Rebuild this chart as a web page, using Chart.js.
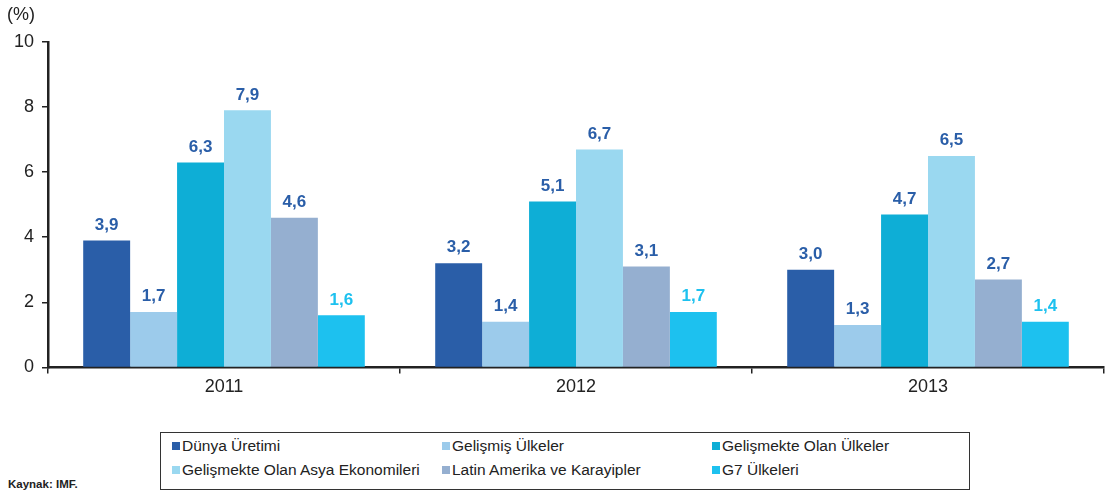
<!DOCTYPE html>
<html lang="tr">
<head>
<meta charset="UTF-8">
<title>Büyüme</title>
<script src="https://cdn.jsdelivr.net/npm/chart.js@4.4.0/dist/chart.umd.min.js"></script>
<style>
    body { margin: 0; background: #fff; font-family: "Liberation Sans", Arial, sans-serif; }
    #wrap { position: relative; width: 1106px; height: 494px; }
    #chart-div { position: absolute; left: 0; top: 0; width: 1106px; height: 401px; }
    #legend {
        position: absolute; left: 160px; top: 432px; width: 810px; height: 58px;
        border: 1.5px solid #333; box-sizing: border-box;
        display: grid; grid-template-columns: 270px 270px 268px; grid-template-rows: 24px 24px;
        padding: 4px 0 0 11px; font-size: 15.5px; color: #222;
    }
    #legend span.sw { display: inline-block; width: 8px; height: 8px; margin-right: 2px; vertical-align: 1px; }
    #source { position: absolute; left: 8px; top: 478px; font-size: 11.5px; font-weight: bold; color: #222; }
</style>
</head>
<body>
<div id="wrap">
    <div id="chart-div"><canvas id="bar-chart"></canvas></div>
    <div id="legend"></div>
    <div id="source">Kaynak: IMF.</div>
</div>
<script>
    var years = ["2011", "2012", "2013"];
    var seriesNames = ["Dünya Üretimi", "Gelişmiş Ülkeler", "Gelişmekte Olan Ülkeler",
                       "Gelişmekte Olan Asya Ekonomileri", "Latin Amerika ve Karayipler", "G7 Ülkeleri"];
    var dunya   = [3.9, 3.2, 3.0];
    var gelismis = [1.7, 1.4, 1.3];
    var gelismekte = [6.3, 5.1, 4.7];
    var asya    = [7.9, 6.7, 6.5];
    var latin   = [4.6, 3.1, 2.7];
    var g7      = [1.6, 1.7, 1.4];
    var yTicks  = [0, 2, 4, 6, 8, 10];

    var colors = ["#2a5ea8", "#9ccbeb", "#0eaed6", "#9ad8f0", "#95afd0", "#1dc1ef"];
    var labelColors = ["#2a5ea8", "#2a5ea8", "#2a5ea8", "#2a5ea8", "#2a5ea8", "#1dc1ef"];
    var allData = [dunya, gelismis, gelismekte, asya, latin, g7];

    var datasets = allData.map(function(d, i){
        return {
            label: seriesNames[i],
            data: d,
            backgroundColor: colors[i],
            barPercentage: 1,
            categoryPercentage: 0.8
        };
    });

    // value labels above bars, comma decimal
    var valueLabels = {
        id: "valueLabels",
        afterDatasetsDraw: function(chart){
            var ctx = chart.ctx;
            ctx.save();
            ctx.font = "bold 17px 'Liberation Sans', Arial, sans-serif";
            ctx.textAlign = "center";
            ctx.textBaseline = "bottom";
            chart.data.datasets.forEach(function(ds, i){
                var meta = chart.getDatasetMeta(i);
                meta.data.forEach(function(bar, j){
                    ctx.fillStyle = labelColors[i];
                    ctx.fillText(ds.data[j].toFixed(1).replace(".", ","), bar.x, bar.y - 7);
                });
            });
            // unit label
            ctx.font = "18px 'Liberation Sans', Arial, sans-serif";
            ctx.fillStyle = "#222";
            ctx.textAlign = "left";
            ctx.textBaseline = "middle";
            ctx.fillText("(%)", 7, 15);
            ctx.restore();
        }
    };

    new Chart(document.getElementById("bar-chart"), {
        type: "bar",
        data: { labels: years, datasets: datasets },
        plugins: [valueLabels],
        options: {
            responsive: true,
            maintainAspectRatio: false,
            animation: false,
            layout: { padding: { top: 42, right: 2, left: 0, bottom: 0 } },
            plugins: { legend: { display: false }, tooltip: { enabled: false } },
            scales: {
                x: {
                    grid: { drawOnChartArea: false, tickLength: 6, color: "#222", lineWidth: 1.5 },
                    border: { color: "#222", width: 2.5 },
                    ticks: { color: "#222", font: { size: 18, family: "'Liberation Sans', Arial, sans-serif" }, padding: 3 }
                },
                y: {
                    min: 0, max: 10,
                    afterFit: function(scale){ scale.width = 48; },
                    afterBuildTicks: function(scale){ scale.ticks = yTicks.map(function(v){ return { value: v }; }); },
                    grid: { drawOnChartArea: false, tickLength: 6, color: "#222", lineWidth: 1.5 },
                    border: { color: "#222", width: 2.5 },
                    ticks: { color: "#222", font: { size: 18, family: "'Liberation Sans', Arial, sans-serif" }, padding: 8 }
                }
            }
        }
    });

    var legend = document.getElementById("legend");
    seriesNames.forEach(function(name, i){
        var item = document.createElement("div");
        item.innerHTML = "<span class='sw' style='background:" + colors[i] + "'></span>" + name;
        legend.appendChild(item);
    });
</script>
</body>
</html>
